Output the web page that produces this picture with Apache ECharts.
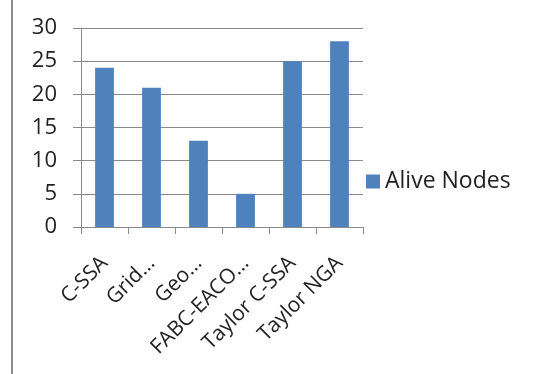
<!DOCTYPE html>
<html>
<head>
<meta charset="utf-8">
<script src="https://cdn.jsdelivr.net/npm/echarts@6/dist/echarts.min.js"></script>
<style>
  html, body { margin: 0; padding: 0; background: #fff; }
  #chart { width: 540px; height: 374px; }
</style>
</head>
<body>
<div id="chart"></div>
<script>
// categories as shown (truncated in the original figure)
const categories = ['C-SSA', 'Grid…', 'Geo…', 'FABC-EACO…', 'Taylor C-SSA', 'Taylor NGA']
const aliveNodes = [24, 21, 13, 5, 25, 28]
const seriesName = 'Alive Nodes'

const chart = echarts.init(document.getElementById('chart'))
const fontFamily = '"Open Sans", sans-serif'

chart.setOption({
    animation: false,
    textStyle: { fontFamily: fontFamily },
    graphic: [{
        // grey frame edge on the left
        type: 'rect',
        shape: { x: 11, y: 0, width: 2, height: 374 },
        style: { fill: '#8c8c8c' }
    }],
    legend: {
        data: [seriesName],
        left: 361,
        top: 165,
        icon: 'rect',
        itemWidth: 14,
        itemHeight: 14,
        itemGap: 4,
        textStyle: { fontSize: 23, color: '#222', fontFamily: fontFamily }
    },
    grid: {
        left: 81,
        right: 177,
        top: 28,
        bottom: 147
    },
    xAxis: {
        type: 'category',
        data: categories,
        axisLine: { lineStyle: { color: '#8a8a8a', width: 1 } },
        axisTick: { show: true, length: 7, lineStyle: { color: '#8a8a8a' } },
        axisLabel: {
            rotate: 45,
            interval: 0,
            margin: 33,
            fontSize: 21,
            color: '#222',
            fontFamily: fontFamily
        }
    },
    yAxis: {
        type: 'value',
        min: 0,
        max: 30,
        interval: 5,
        axisLine: { show: true, lineStyle: { color: '#8a8a8a' } },
        axisTick: { show: true, length: 8, lineStyle: { color: '#8a8a8a' } },
        splitLine: { lineStyle: { color: '#8a8a8a', width: 1 } },
        axisLabel: {
            fontSize: 22,
            color: '#222',
            margin: 24,
            fontFamily: fontFamily
        }
    },
    series: [{
        name: seriesName,
        type: 'bar',
        data: aliveNodes,
        barWidth: '40%',
        itemStyle: { color: '#4f81bd' }
    }]
})
</script>
</body>
</html>
